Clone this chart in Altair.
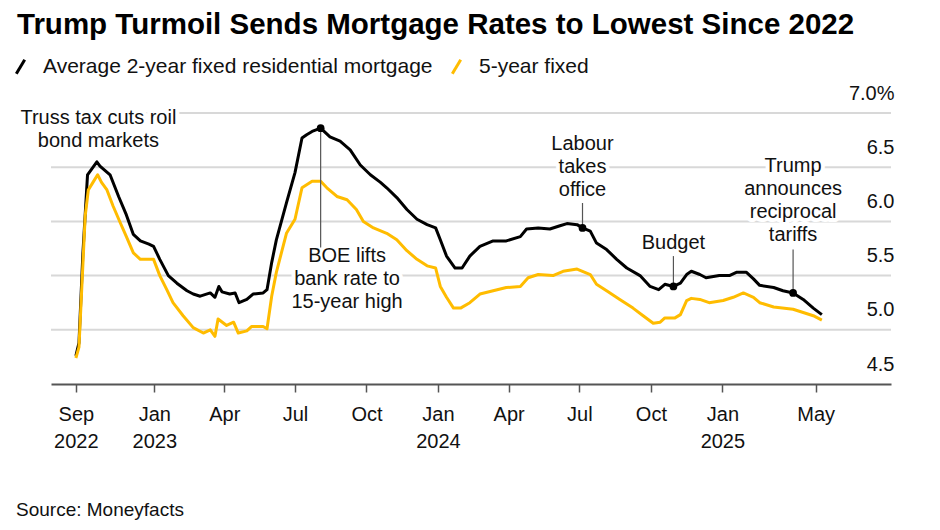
import altair as alt
import pandas as pd

FONT = "Liberation Sans"

series_names = ["Average 2-year fixed residential mortgage", "5-year fixed"]
series_colors = ["#000000", "#FFBC00"]

dates_2y = ["2022-09-22","2022-09-26","2022-10-01","2022-10-07","2022-10-13","2022-10-19","2022-10-23","2022-11-05","2022-11-16","2022-11-26","2022-12-05","2022-12-14","2022-12-25","2022-12-31","2023-01-08","2023-01-19","2023-01-30","2023-02-12","2023-02-20","2023-03-01","2023-03-14","2023-03-20","2023-03-25","2023-03-29","2023-04-08","2023-04-15","2023-04-20","2023-04-30","2023-05-08","2023-05-21","2023-05-26","2023-06-01","2023-06-07","2023-06-20","2023-07-01","2023-07-10","2023-07-16","2023-07-23","2023-08-03","2023-08-15","2023-08-28","2023-09-10","2023-09-23","2023-10-06","2023-10-19","2023-10-27","2023-11-09","2023-11-22","2023-12-05","2023-12-18","2023-12-29","2024-01-04","2024-01-12","2024-01-23","2024-02-01","2024-02-11","2024-02-24","2024-03-12","2024-03-29","2024-04-16","2024-04-24","2024-05-09","2024-05-24","2024-06-06","2024-06-15","2024-06-28","2024-07-05","2024-07-15","2024-07-23","2024-08-05","2024-08-18","2024-08-31","2024-09-17","2024-09-30","2024-10-11","2024-10-19","2024-10-30","2024-11-08","2024-11-16","2024-11-22","2024-12-03","2024-12-11","2024-12-28","2025-01-10","2025-01-19","2025-02-01","2025-02-10","2025-02-18","2025-03-08","2025-03-20","2025-04-02","2025-04-15","2025-04-28","2025-05-09"]
vals_2y = [4.76,4.88,5.70,6.43,6.49,6.55,6.51,6.43,6.23,6.06,
           5.88,5.82,5.79,5.77,5.65,5.50,5.43,5.36,5.33,5.31,
           5.34,5.30,5.40,5.35,5.33,5.34,5.25,5.28,5.33,5.34,
           5.37,5.62,5.83,6.17,6.45,6.77,6.80,6.83,6.86,6.78,
           6.74,6.66,6.52,6.43,6.36,6.31,6.22,6.11,6.02,5.97,
           5.94,5.83,5.68,5.57,5.57,5.68,5.77,5.82,5.82,5.86,
           5.93,5.94,5.93,5.96,5.98,5.97,5.94,5.91,5.80,5.74,
           5.65,5.57,5.50,5.40,5.37,5.42,5.40,5.43,5.51,5.54,
           5.51,5.48,5.50,5.50,5.53,5.53,5.47,5.41,5.39,5.36,
           5.34,5.28,5.20,5.14]

dates_5y = ["2022-09-22","2022-09-26","2022-10-04","2022-10-08","2022-10-14","2022-10-20","2022-10-25","2022-11-01","2022-11-09","2022-11-18","2022-11-26","2022-12-05","2022-12-14","2022-12-31","2023-01-08","2023-01-17","2023-01-25","2023-02-07","2023-02-20","2023-03-05","2023-03-14","2023-03-20","2023-03-24","2023-04-04","2023-04-13","2023-04-19","2023-04-30","2023-05-06","2023-05-21","2023-05-26","2023-06-01","2023-06-07","2023-06-20","2023-07-01","2023-07-10","2023-07-23","2023-08-03","2023-08-11","2023-08-24","2023-09-06","2023-09-18","2023-09-27","2023-10-10","2023-10-27","2023-11-09","2023-11-22","2023-12-05","2023-12-18","2023-12-29","2024-01-04","2024-01-12","2024-01-21","2024-01-30","2024-02-11","2024-02-24","2024-03-12","2024-03-29","2024-04-16","2024-04-26","2024-05-09","2024-05-28","2024-06-10","2024-06-28","2024-07-15","2024-07-23","2024-08-05","2024-08-22","2024-09-08","2024-09-21","2024-10-04","2024-10-13","2024-10-19","2024-11-01","2024-11-08","2024-11-16","2024-11-22","2024-12-03","2024-12-15","2025-01-02","2025-01-15","2025-01-28","2025-02-10","2025-02-18","2025-03-08","2025-04-02","2025-04-15","2025-04-28","2025-05-09"]
vals_5y = [4.74,4.84,6.05,6.29,6.36,6.43,6.36,6.29,6.14,5.99,
           5.86,5.71,5.65,5.65,5.50,5.37,5.25,5.13,5.02,4.97,
           5.00,4.94,5.10,5.04,5.07,4.97,4.99,5.03,5.03,5.01,
           5.31,5.53,5.89,6.02,6.31,6.37,6.37,6.31,6.23,6.20,
           6.11,6.00,5.94,5.89,5.83,5.73,5.65,5.59,5.57,5.40,
           5.30,5.20,5.20,5.25,5.33,5.36,5.39,5.40,5.48,5.51,
           5.50,5.54,5.56,5.51,5.42,5.36,5.28,5.20,5.13,5.06,
           5.07,5.11,5.11,5.14,5.27,5.29,5.28,5.25,5.27,5.30,
           5.34,5.30,5.25,5.21,5.19,5.16,5.13,5.09]

# events marked on the 2-year line
event_dates = ["2023-08-03", "2024-07-05", "2024-10-30", "2025-04-02"]
event_vals = [6.86, 5.94, 5.40, 5.34]
# value where each leader line meets its label
leader_ends = [5.76, 6.17, 5.68, 5.74]

# annotation labels (date, value = centre of the first text line)
ann_texts = ["Truss tax cuts roil\nbond markets",
             "BOE lifts\nbank rate to\n15-year high",
             "Labour\ntakes\noffice",
             "Budget",
             "Trump\nannounces\nreciprocal\ntariffs"]
ann_dates = ["2022-10-21", "2023-09-06", "2024-07-05", "2024-10-30", "2025-04-02"]
ann_vals = [6.957, 5.680, 6.717, 5.803, 6.508]

y_ticks = [4.5, 5.0, 5.5, 6.0, 6.5, 7.0]
grid_vals = [5.0, 5.5, 6.0, 6.5, 7.0]
x_tick_dates = [(2022, 9, 22), (2023, 1, 1), (2023, 4, 1), (2023, 7, 1), (2023, 10, 1),
                (2024, 1, 1), (2024, 4, 1), (2024, 7, 1), (2024, 10, 1), (2025, 1, 1), (2025, 5, 1)]

title_text = "Trump Turmoil Sends Mortgage Rates to Lowest Since 2022"
source_text = "Source: Moneyfacts"


def ts(d):
    return d + "T00:00:00"


lines_df = pd.concat([
    pd.DataFrame({"date": [ts(d) for d in dates_2y], "value": vals_2y, "series": series_names[0]}),
    pd.DataFrame({"date": [ts(d) for d in dates_5y], "value": vals_5y, "series": series_names[1]}),
])
events_df = pd.DataFrame({"date": [ts(d) for d in event_dates], "value": event_vals, "end": leader_ends})
ann_df = pd.DataFrame({"date": [ts(d) for d in ann_dates], "value": ann_vals, "label": ann_texts})
grid_df = pd.DataFrame({"value": grid_vals})
source_df = pd.DataFrame({"label": [source_text]})

x_scale = alt.Scale(domain=[alt.DateTime(year=2022, month=8, date=21),
                            alt.DateTime(year=2025, month=8, date=6)])
y_scale = alt.Scale(domain=[4.5, 7.0], nice=False, zero=False)

x_axis = alt.Axis(
    values=[alt.DateTime(year=y, month=m, date=d) for (y, m, d) in x_tick_dates],
    labelExpr="(month(datum.value)==0 || month(datum.value)==8) ? [timeFormat(datum.value,'%b'), timeFormat(datum.value,'%Y')] : timeFormat(datum.value,'%b')",
    title=None, grid=False,
    domainColor="#555555", domainWidth=1.8,
    tickColor="#555555", tickWidth=1.5, tickSize=8,
    labelFont=FONT, labelFontSize=20, labelColor="#111111",
    labelPadding=12, labelLineHeight=27, labelBaseline="top",
    labelFlush=False, labelOverlap=False,
)
y_axis = alt.Axis(
    orient="right", values=y_ticks, title=None,
    domain=False, ticks=False, tickSize=0, grid=False,
    labelAlign="right", labelPadding=3, labelBaseline="alphabetic", labelOffset=-14,
    labelFont=FONT, labelFontSize=20, labelColor="#111111",
    labelExpr="datum.value == 7 ? '7.0%' : format(datum.value, '.1f')",
)

grid = alt.Chart(grid_df).mark_rule(color="#d8d8d8", strokeWidth=2).encode(
    y=alt.Y("value:Q", scale=y_scale, axis=y_axis),
)

lines = alt.Chart(lines_df).mark_line(strokeWidth=3, strokeJoin="round").encode(
    x=alt.X("date:T", scale=x_scale, axis=x_axis),
    y=alt.Y("value:Q", title=None),
    color=alt.Color(
        "series:N",
        scale=alt.Scale(domain=series_names, range=series_colors),
        legend=alt.Legend(
            title=None, orient="none", legendX=-41, legendY=-57, direction="horizontal",
            symbolType="M-0.6,1L0.6,-1", symbolSize=196, symbolStrokeWidth=3,
            labelFont=FONT, labelFontSize=21, labelColor="#111111", labelLimit=600,
            labelOffset=12, columnPadding=13, padding=0,
        ),
    ),
)

leaders = alt.Chart(events_df).mark_rule(color="#555555", strokeWidth=1.2).encode(
    x=alt.X("date:T", title=None),
    y=alt.Y("value:Q", title=None),
    y2="end:Q",
)

dots = alt.Chart(events_df).mark_circle(size=60, color="#000000", opacity=1).encode(
    x=alt.X("date:T", title=None),
    y=alt.Y("value:Q", title=None),
)

text_props = dict(font=FONT, fontSize=20, lineBreak="\n", lineHeight=23, align="center", baseline="middle")
halo = alt.Chart(ann_df).mark_text(color="white", stroke="white", strokeWidth=8, strokeJoin="round", **text_props).encode(
    x=alt.X("date:T", title=None), y=alt.Y("value:Q", title=None), text="label:N")
labels = alt.Chart(ann_df).mark_text(color="#111111", **text_props).encode(
    x=alt.X("date:T", title=None), y=alt.Y("value:Q", title=None), text="label:N")

source = alt.Chart(source_df).mark_text(font=FONT, fontSize=19, color="#111111", align="left", baseline="middle").encode(
    text="label:N", x=alt.value(-35), y=alt.value(397))

chart = alt.layer(grid, lines, halo, leaders, dots, labels, source).properties(
    width=840, height=271,
    title=alt.TitleParams(text=title_text, anchor="start", frame="group", dx=-34,
                          font=FONT, fontSize=29.5, fontWeight="bold", color="#000000", offset=16),
    autosize=alt.AutoSizeParams(type="none"),
    padding={"left": 43, "top": 105, "right": 41, "bottom": 138},
    background="white",
).configure_view(stroke=None)

chart.save("out.html", embed_options={"renderer": "svg", "actions": False})
